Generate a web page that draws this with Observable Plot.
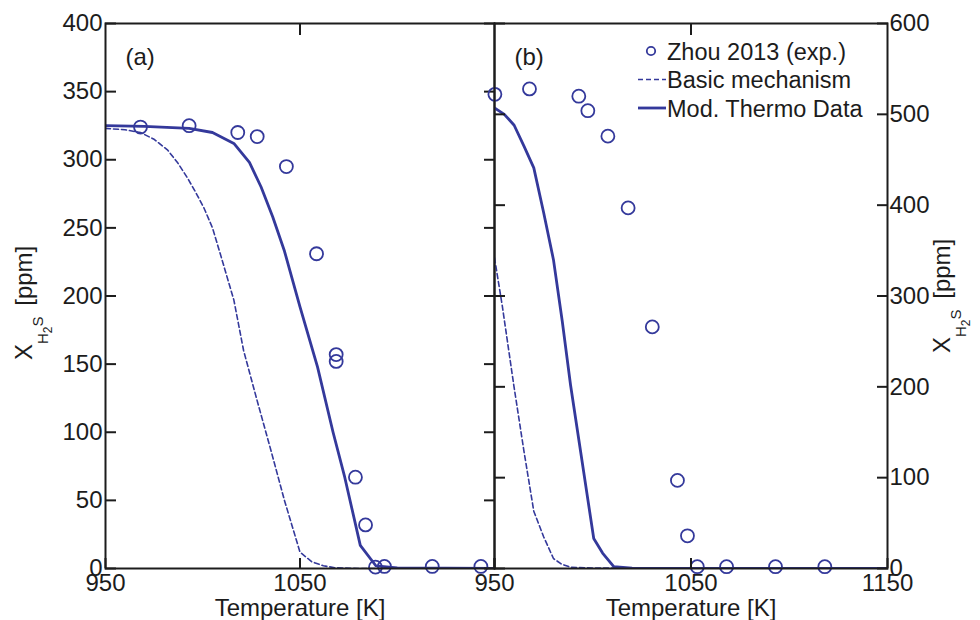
<!DOCTYPE html>
<html>
<head>
<meta charset="utf-8">
<script src="https://cdn.jsdelivr.net/npm/d3@7"></script>
<script src="https://cdn.jsdelivr.net/npm/@observablehq/plot@0.6"></script>
<style>
  body { margin: 0; background: #fff; }
  #wrap { position: relative; width: 980px; height: 620px; overflow: hidden; background: #fff;
          font-family: "Liberation Sans", Arial, Helvetica, sans-serif; }
  #wrap svg { position: absolute; top: 0; }
</style>
</head>
<body>
<div id="wrap"></div>
<script>
// ---------- tick labels ----------
const xTicksA = [950, 1050];
const xTickMarksA = [950, 1050, 1150];
const xTicksB = [950, 1050, 1150];
const yTicksA = [0, 50, 100, 150, 200, 250, 300, 350, 400];
const yTicksB = [0, 100, 200, 300, 400, 500, 600];
const topTicks = [1050];

// ---------- panel (a) ----------
const expA_T = [968, 993, 1018, 1028, 1043, 1058.5, 1068.6, 1068.6, 1078.5, 1083.7, 1088.8, 1093.4, 1118, 1143];
const expA_X = [324, 325, 320, 317, 295, 231, 157, 152, 67, 32, 1, 1.5, 1.5, 1.5];

const basicA_T = [950, 960, 968, 975, 982, 987, 992, 996, 1000.5, 1005, 1009, 1016, 1021, 1028, 1035, 1042, 1050, 1056, 1062, 1068, 1080, 1150];
const basicA_X = [323, 322, 320, 315, 307, 298, 287, 277, 265, 250, 231, 197, 160, 123, 87, 50, 12, 5, 2, 0.5, 0, 0];

const modA_T = [950, 970, 993, 1005, 1016, 1024, 1030, 1036, 1042, 1050, 1059, 1067, 1073, 1081, 1089, 1100, 1150];
const modA_X = [325, 324.5, 323, 320, 312, 298, 280, 258, 233, 192, 148, 100, 67, 17, 2, 0.5, 0];

// ---------- panel (b) ----------
const expB_T = [950.2, 967.8, 992.9, 997.5, 1007.7, 1018, 1030.3, 1043.1, 1048.2, 1053.2, 1068.1, 1093, 1118.1];
const expB_X = [522, 528, 520, 504, 476, 397, 266, 97, 36, 2, 2, 2, 2];

const basicB_T = [950, 953.9, 959.8, 965, 970, 975, 980, 984, 988.7, 1000, 1150];
const basicB_X = [342, 290, 202, 129, 63, 35, 11, 5, 1.4, 0.5, 0];

const modB_T = [950, 955, 960, 965, 970, 975, 980, 984.5, 988.7, 993.8, 1000.5, 1005, 1010.7, 1020, 1150];
const modB_X = [507, 500, 488, 465, 441, 392, 340, 272, 202, 129, 33, 17, 2, 0.5, 0];

// ---------- texts ----------
const xLabel = "Temperature [K]";
const panelA = "(a)";
const panelB = "(b)";
const legendItems = [
  {label: "Zhou 2013 (exp.)", kind: "dot"},
  {label: "Basic mechanism", kind: "dash"},
  {label: "Mod. Thermo Data", kind: "solid"}
];

// ---------- styling ----------
const ink = "#1c1c1c";
const blue = "#34399b";
const FONT = "Liberation Sans, Arial, Helvetica, sans-serif";
const FS = 24;
const fmt = d => String(d);

const rows = (T, X) => T.map((t, i) => ({t, v: X[i]}));

function panel({width, marginLeft, marginRight, yDomain, yTicks, yAnchor, xTicks, xTickMarks, label, exp, basic, mod}) {
  const other = yAnchor === "left" ? "right" : "left";
  return Plot.plot({
    width, height: 620,
    marginLeft, marginRight, marginTop: 23, marginBottom: 52,
    style: {background: "transparent", fontFamily: FONT, fontSize: FS + "px", color: ink, overflow: "visible"},
    x: {domain: [950, 1150]},
    y: {domain: yDomain},
    marks: [
      Plot.line(basic, {x: "t", y: "v", stroke: blue, strokeWidth: 1.6, strokeDasharray: "5,3", clip: true}),
      Plot.line(mod, {x: "t", y: "v", stroke: blue, strokeWidth: 2.8, clip: true}),
      Plot.dot(exp, {x: "t", y: "v", r: 6.5, stroke: blue, strokeWidth: 1.8, fill: "none"}),
      Plot.frame({stroke: ink, strokeWidth: 2}),
      Plot.axisY(yTicks, {anchor: yAnchor, tickSize: 0, tickPadding: yAnchor === "left" ? 3 : 2, tickFormat: fmt, fontSize: FS, fill: ink, label: null}),
      Plot.axisY(yTicks, {anchor: yAnchor, tickSize: -11, fill: "none", stroke: ink, strokeWidth: 2, label: null}),
      Plot.axisY(yTicks, {anchor: other, tickSize: -11, fill: "none", stroke: ink, strokeWidth: 2, label: null}),
      Plot.axisX(xTicks, {anchor: "bottom", tickSize: 0, tickPadding: 5, tickFormat: fmt, fontSize: FS, fill: ink, label: null}),
      Plot.axisX(xTickMarks, {anchor: "bottom", tickSize: -10, fill: "none", stroke: ink, strokeWidth: 2, label: null}),
      Plot.axisX(topTicks, {anchor: "top", tickSize: -11, fill: "none", stroke: ink, strokeWidth: 2, label: null}),
      Plot.text([label], {text: d => d, frameAnchor: "top-left", dx: 20, dy: 24, lineAnchor: "top", textAnchor: "start", fontSize: FS, fill: ink}),
      Plot.text([xLabel], {text: d => d, frameAnchor: "bottom", dy: 30, lineAnchor: "top", fontSize: FS, fill: ink})
    ]
  });
}

const wrap = document.getElementById("wrap");

const pA = panel({
  width: 500, marginLeft: 105, marginRight: 6,
  yDomain: [0, 400], yTicks: yTicksA, yAnchor: "left",
  xTicks: xTicksA, xTickMarks: xTickMarksA, label: panelA,
  exp: rows(expA_T, expA_X), basic: rows(basicA_T, basicA_X), mod: rows(modA_T, modA_X)
});
pA.style.left = "0px";
wrap.appendChild(pA);

const pB = panel({
  width: 492, marginLeft: 6, marginRight: 93,
  yDomain: [0, 600], yTicks: yTicksB, yAnchor: "right",
  xTicks: xTicksB, xTickMarks: xTicksB, label: panelB,
  exp: rows(expB_T, expB_X), basic: rows(basicB_T, basicB_X), mod: rows(modB_T, modB_X)
});
pB.style.left = "488px";
wrap.appendChild(pB);

// ---------- overlay: y titles and legend ----------
const ov = d3.select(wrap).append("svg")
  .attr("width", 980).attr("height", 620)
  .style("left", "0px").style("pointer-events", "none")
  .attr("font-family", FONT).attr("fill", ink);

function yTitle(x, y) {
  const t = ov.append("text").attr("transform", `translate(${x},${y}) rotate(-90)`)
    .attr("text-anchor", "start").attr("font-size", FS);
  t.append("tspan").text("X");
  t.append("tspan").attr("font-size", 15).attr("dy", 16).text("H");
  t.append("tspan").attr("font-size", 12).attr("dy", 4).text("2");
  t.append("tspan").attr("font-size", 15).attr("dy", -9).text("S");
  t.append("tspan").attr("font-size", FS).attr("dy", -11).attr("dx", 4).text(" [ppm]");
}
yTitle(32, 360);
yTitle(950, 353);

const lg = ov.append("g");
legendItems.forEach((d, i) => {
  const cy = 51 + i * 28.5;
  if (d.kind === "dot") {
    lg.append("circle").attr("cx", 651).attr("cy", cy).attr("r", 4.2)
      .attr("fill", "none").attr("stroke", blue).attr("stroke-width", 1.8);
  } else {
    lg.append("line").attr("x1", 638).attr("x2", 666).attr("y1", cy).attr("y2", cy)
      .attr("stroke", blue)
      .attr("stroke-width", d.kind === "dash" ? 1.6 : 2.8)
      .attr("stroke-dasharray", d.kind === "dash" ? "5,3" : null);
  }
  lg.append("text").attr("x", 667).attr("y", cy + 8.5).attr("font-size", 23.5).text(d.label);
});
</script>
</body>
</html>
